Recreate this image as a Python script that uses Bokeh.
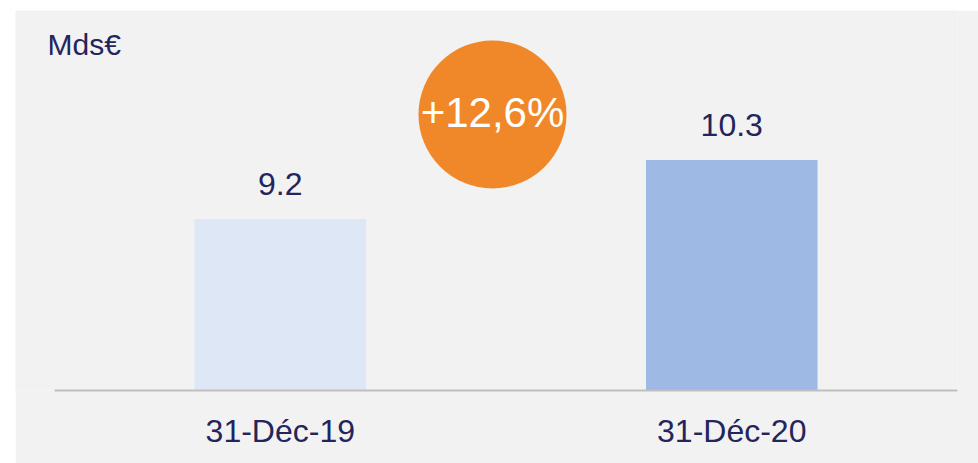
from bokeh.plotting import figure
from bokeh.models import ColumnDataSource, Label, Range1d, FixedTicker
from bokeh.core.properties import value
from bokeh.embed import file_html
from bokeh.resources import INLINE

categories = ["31-Déc-19", "31-Déc-20"]
values = [9.2, 10.3]
value_labels = ["9.2", "10.3"]
bar_colors = ["#dde7f5", "#9db9e4"]
unit_label = "Mds€"
growth_label = "+12,6%"

FONT = "Liberation Sans"
NAVY = "#23255c"
BG = "#f2f2f2"

xs = [i + 0.5 for i in range(len(categories))]
src = ColumnDataSource(dict(x=xs, cat=categories, val=values, lab=value_labels, color=bar_colors))

p = figure(x_range=Range1d(-0.0865, 2.0), y_range=(6, 13.09), width=963, height=453,
           output_backend="svg", toolbar_location=None,
           min_border_left=0, min_border_right=21, min_border_top=0, min_border_bottom=73)
p.margin = (10, 0, 0, 15)
p.background_fill_color = BG
p.border_fill_color = BG
p.outline_line_color = None
p.xgrid.visible = False
p.ygrid.visible = False
p.yaxis.visible = False

p.vbar(x="x", top="val", bottom=6, width=0.38, color="color", line_color=None, source=src)

p.text(x="x", y="val", text="lab", source=src, text_align="center",
       text_baseline="alphabetic", y_offset=-35, text_font=value(FONT),
       text_font_size="32px", text_color=NAVY)

# growth bubble between the bars
p.scatter(x=[0.97], y=[11.15], size=148, marker="circle", color="#f0882a", line_color=None)
p.text(x=[0.97], y=[11.15], text=[growth_label], text_align="center", text_baseline="middle",
       y_offset=-2, text_font=value(FONT), text_font_size="42px", text_color="white")

p.add_layout(Label(x=-0.0155, y=12.46, text=unit_label, text_font=FONT, text_font_size="30px",
                   text_color=NAVY, text_baseline="alphabetic"))

ax = p.xaxis[0]
ax.bounds = (0, 2)
ax.ticker = FixedTicker(ticks=xs)
ax.major_label_overrides = {x: c for x, c in zip(xs, categories)}
ax.axis_line_color = "#bfbfbf"
ax.axis_line_width = 2
ax.major_tick_line_color = None
ax.minor_tick_line_color = None
ax.major_tick_out = 0
ax.major_label_standoff = 22
ax.major_label_text_font = FONT
ax.major_label_text_font_size = "32px"
ax.major_label_text_color = NAVY

open("out.html", "w").write(file_html(p, INLINE))
